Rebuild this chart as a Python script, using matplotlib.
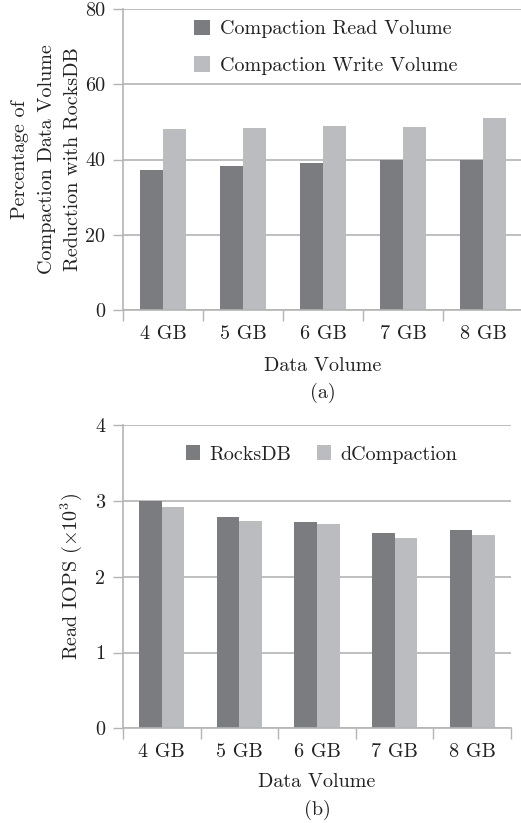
import matplotlib
matplotlib.use("Agg")
import matplotlib.pyplot as plt
import numpy as np

plt.rcParams['font.family'] = ['cmr10', 'DejaVu Serif']
plt.rcParams['mathtext.fontset'] = 'cm'
plt.rcParams['axes.formatter.use_mathtext'] = True
plt.rcParams['axes.unicode_minus'] = False

categories = ["4 GB", "5 GB", "6 GB", "7 GB", "8 GB"]
read_volume = [37.2, 38.3, 39.1, 40.0, 39.9]
write_volume = [48.1, 48.4, 48.9, 48.6, 51.0]
rocksdb_iops = [3.00, 2.79, 2.72, 2.58, 2.62]
dcompaction_iops = [2.92, 2.74, 2.70, 2.51, 2.55]
yticks_a = [0, 20, 40, 60, 80]
yticks_b = [0, 1, 2, 3, 4]

DARK = "#7b7c80"
LIGHT = "#bbbcc0"
GRID = "#b4b4b4"
TEXT = "#222222"
FS = 14.5

fig = plt.figure(figsize=(5.21, 8.23), dpi=100)
ax1 = fig.add_axes([0.2361, 0.6233, 0.768, 0.3657])
ax2 = fig.add_axes([0.2361, 0.1151, 0.7447, 0.3682])

def style(ax, yticks, ymax, pad):
    x = np.arange(len(categories))
    ax.set_xlim(-0.5, len(categories) - 0.5)
    ax.set_ylim(0, ymax)
    ax.set_yticks(yticks)
    ax.set_yticklabels([str(t) for t in yticks])
    ax.set_xticks(x)
    ax.set_xticklabels(categories)
    ax.set_xticks(np.arange(len(categories) + 1) - 0.5, minor=True)
    ax.tick_params(axis='x', which='major', length=0, pad=pad, labelsize=FS, colors=TEXT)
    ax.tick_params(axis='x', which='minor', length=8, width=1, color=GRID, direction='out')
    ax.tick_params(axis='y', length=7, width=1, color=GRID, pad=6, labelsize=FS, labelcolor=TEXT)
    for s in ['top', 'right']:
        ax.spines[s].set_visible(False)
    for s in ['left', 'bottom']:
        ax.spines[s].set_color(GRID)
        ax.spines[s].set_linewidth(1.2)
    ax.yaxis.grid(True, color=GRID, linewidth=1.2)
    ax.set_axisbelow(True)
    return x

w = 0.29

x = style(ax1, yticks_a, 80, 11)
ax1.bar(x - w / 2, read_volume, w, color=DARK, label="Compaction Read Volume")
ax1.bar(x + w / 2, write_volume, w, color=LIGHT, label="Compaction Write Volume")
ax1.set_ylabel("Percentage of\nCompaction Data Volume\nReduction with RocksDB",
               fontsize=FS, color=TEXT, labelpad=2, linespacing=1.6)
ax1.set_xlabel("Data Volume", fontsize=FS, color=TEXT, labelpad=10)
ax1.text(0.5, -0.275, "(a)", transform=ax1.transAxes, ha='center', va='center',
         fontsize=FS, color=TEXT)
ax1.legend(loc='upper left', bbox_to_anchor=(0.1775, 0.965), frameon=False, fontsize=FS,
           borderaxespad=0, borderpad=0,
           handlelength=0.8, handleheight=0.8, labelspacing=0.9, handletextpad=0.5,
           labelcolor=TEXT)

x = style(ax2, yticks_b, 4, 11)
ax2.bar(x - w / 2, rocksdb_iops, w, color=DARK, label="RocksDB")
ax2.bar(x + w / 2, dcompaction_iops, w, color=LIGHT, label="dCompaction")
ax2.set_ylabel(r"Read IOPS ($\times10^3$)", fontsize=FS, color=TEXT, labelpad=8)
ax2.set_xlabel("Data Volume", fontsize=FS, color=TEXT, labelpad=8)
ax2.text(0.5, -0.27, "(b)", transform=ax2.transAxes, ha='center', va='center',
         fontsize=FS, color=TEXT)
ax2.legend(loc='upper left', bbox_to_anchor=(0.162, 0.935), frameon=False, fontsize=FS, ncol=2,
           borderaxespad=0, borderpad=0,
           handlelength=0.7, handleheight=0.8, columnspacing=1.3, handletextpad=0.45,
           labelcolor=TEXT)

fig.savefig("out.png", dpi=100)
